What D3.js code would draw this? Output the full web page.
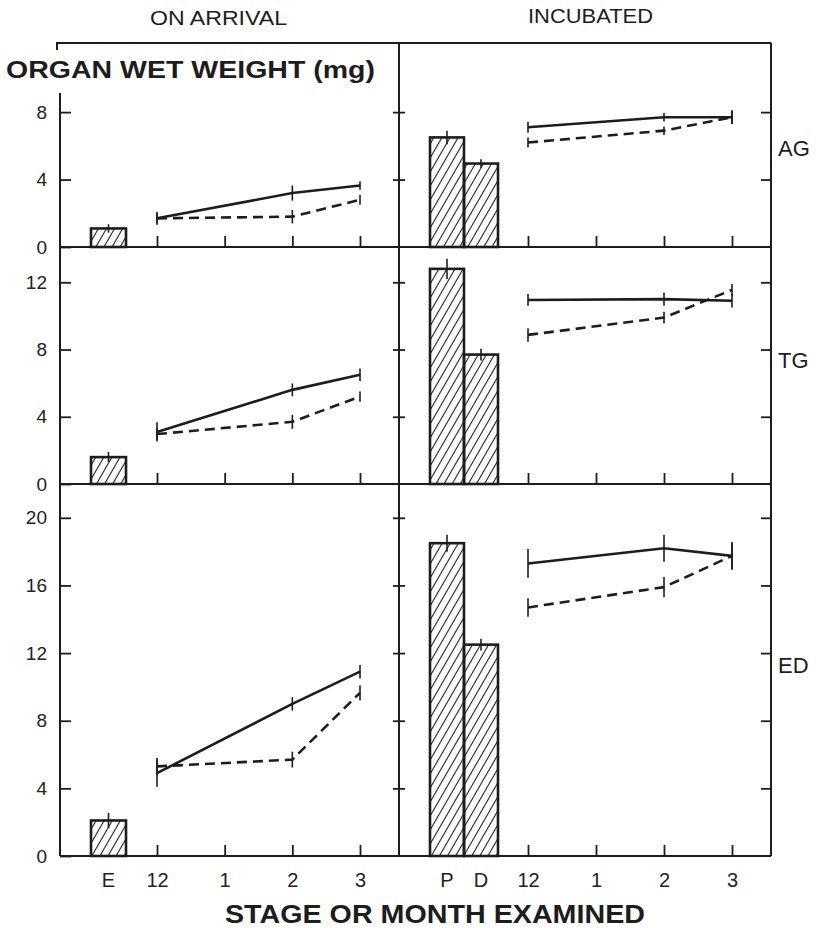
<!DOCTYPE html>
<html lang="en">
<head>
<meta charset="UTF-8">
<title>Organ wet weight</title>
<script src="https://cdnjs.cloudflare.com/ajax/libs/d3/7.8.5/d3.min.js"></script>
<style>
    body { margin: 0; background: #fff; }
    svg { display: block; font-family: "Liberation Sans", Arial, sans-serif; }
    .tick text { fill: #222; }
</style>
</head>
<body>
<svg id="chart" width="819" height="928"></svg>
<script>
// categories
const organs = ["AG", "TG", "ED"];
const months = ["12", "1", "2", "3"];
const lineMonths = ["12", "2", "3"];
const arrivalStages = ["E"];
const incubStages = ["P", "D"];
const yTicks = [[0, 4, 8], [0, 4, 8, 12], [0, 4, 8, 12, 16, 20]];

// bar values per organ (AG, TG, ED)
const barE = [1.1, 1.6, 2.1];
const barEErr = [0.25, 0.3, 0.45];
const barP = [6.5, 12.8, 18.5];
const barPErr = [0.4, 0.6, 0.5];
const barD = [4.95, 7.7, 12.5];
const barDErr = [0.25, 0.35, 0.35];

// on arrival, months 12, 2, 3
const arrSolid = [[1.7, 3.2, 3.65], [3.1, 5.6, 6.5], [4.9, 9.0, 10.9]];
const arrSolidErr = [[0.38, 0.45, 0.25], [0.57, 0.38, 0.37], [0.8, 0.4, 0.4]];
const arrDash = [[1.7, 1.8, 2.8], [2.97, 3.7, 5.2], [5.3, 5.7, 9.65]];
const arrDashErr = [[0.3, 0.4, 0.3], [0.35, 0.42, 0.3], [0.5, 0.47, 0.45]];

// incubated, months 12, 2, 3
const incSolid = [[7.1, 7.7, 7.7], [10.95, 11.0, 10.9], [17.3, 18.2, 17.75]];
const incSolidErr = [[0.33, 0.25, 0.4], [0.35, 0.4, 0.4], [0.85, 0.8, 0.8]];
const incDash = [[6.2, 6.9, 7.7], [8.87, 9.9, 11.55], [14.7, 15.9, 17.75]];
const incDashErr = [[0.3, 0.25, 0.4], [0.4, 0.35, 0.35], [0.55, 0.6, 0.8]];

const ink = "#1d1d1d";
const xLeft = 60, xDiv = 399, xRight = 771;
const panelTop = [43, 247, 484];
const panelBot = [247, 484, 856];
const yMax = [12.1, 14.1, 22.0];

const svg = d3.select("#chart");

svg.append("defs").append("pattern")
    .attr("id", "hatch")
    .attr("patternUnits", "userSpaceOnUse")
    .attr("width", 7).attr("height", 7)
    .attr("patternTransform", "rotate(30)")
  .append("line")
    .attr("x1", 3.5).attr("y1", -1).attr("x2", 3.5).attr("y2", 8)
    .attr("stroke", ink).attr("stroke-width", 1.1);

const xMonthL = d3.scalePoint().domain(months).range([157, 360]);
const xMonthR = d3.scalePoint().domain(months).range([528, 732]);
const xStageL = d3.scaleBand().domain(arrivalStages).range([91, 126]);
const xStageR = d3.scaleBand().domain(incubStages).range([430, 498]);

const frame = (x1, y1, x2, y2, w) => svg.append("line")
    .attr("x1", x1).attr("y1", y1).attr("x2", x2).attr("y2", y2)
    .attr("stroke", ink).attr("stroke-width", w || 2);

function clean(g) {
    g.select(".domain").remove();
    g.selectAll(".tick line").attr("stroke", ink).attr("stroke-width", 1.8);
}

organs.forEach((organ, i) => {
    const y = d3.scaleLinear().domain([0, yMax[i]]).range([panelBot[i], panelTop[i]]);
    const last = i === organs.length - 1;

    // left y axis
    svg.append("g")
        .attr("transform", `translate(${xLeft},0)`)
        .call(d3.axisLeft(y).tickValues(yTicks[i]).tickSizeInner(-11).tickSizeOuter(0).tickPadding(13))
        .call(clean)
        .call(g => g.selectAll(".tick text").attr("font-size", 19));

    // right y axis
    svg.append("g")
        .attr("transform", `translate(${xRight},0)`)
        .call(d3.axisRight(y).tickValues(yTicks[i].filter(v => v > 0)).tickSizeInner(-10).tickSizeOuter(0).tickFormat(""))
        .call(clean);

    // divider, ticks crossing both sides
    [d3.axisLeft, d3.axisRight].forEach(ax => {
        svg.append("g")
            .attr("transform", `translate(${xDiv},0)`)
            .call(ax(y).tickValues(yTicks[i].filter(v => v > 0)).tickSizeInner(6).tickSizeOuter(0).tickFormat(""))
            .call(clean);
    });

    // month ticks along the bottom
    [xMonthL, xMonthR].forEach(xs => {
        svg.append("g")
            .attr("transform", `translate(0,${panelBot[i]})`)
            .call(d3.axisBottom(xs).tickSizeInner(-11).tickSizeOuter(0).tickPadding(17).tickFormat(last ? d => d : ""))
            .call(clean)
            .call(g => g.selectAll(".tick text").attr("font-size", 20));
    });
    if (last) {
        [xStageL, xStageR].forEach(xs => {
            svg.append("g")
                .attr("transform", `translate(0,${panelBot[i]})`)
                .call(d3.axisBottom(xs).tickSize(0).tickPadding(17))
                .call(g => g.select(".domain").remove())
                .call(g => g.selectAll(".tick text").attr("font-size", 20));
        });
    }

    // frame lines
    frame(xLeft, panelBot[i], xRight, panelBot[i], 2);
    frame(xLeft, i === 0 ? 93 : panelTop[i], xLeft, panelBot[i], 2);

    // bars
    const bars = [
        { x: xStageL, s: "E", v: barE[i], e: barEErr[i] },
        { x: xStageR, s: "P", v: barP[i], e: barPErr[i] },
        { x: xStageR, s: "D", v: barD[i], e: barDErr[i] }
    ];
    bars.forEach(b => {
        svg.append("rect")
            .attr("x", b.x(b.s)).attr("width", b.x.bandwidth())
            .attr("y", y(b.v)).attr("height", y(0) - y(b.v))
            .attr("fill", "url(#hatch)")
            .attr("stroke", ink).attr("stroke-width", 2.6);
        const cx = b.x(b.s) + b.x.bandwidth() / 2;
        frame(cx, y(b.v - b.e), cx, y(b.v + b.e), 1.6);
    });

    // lines with error bars
    const series = [
        { x: xMonthL, v: arrSolid[i], e: arrSolidErr[i], dash: null },
        { x: xMonthL, v: arrDash[i], e: arrDashErr[i], dash: "10,6" },
        { x: xMonthR, v: incSolid[i], e: incSolidErr[i], dash: null },
        { x: xMonthR, v: incDash[i], e: incDashErr[i], dash: "10,6" }
    ];
    series.forEach(s => {
        const pts = lineMonths.map((m, k) => ({ m, v: s.v[k], e: s.e[k] }));
        svg.append("path")
            .datum(pts)
            .attr("d", d3.line().x(d => s.x(d.m)).y(d => y(d.v)))
            .attr("fill", "none")
            .attr("stroke", ink).attr("stroke-width", 2.6)
            .attr("stroke-dasharray", s.dash);
        pts.forEach(d => frame(s.x(d.m), y(d.v - d.e), s.x(d.m), y(d.v + d.e), 1.6));
    });

    // organ label
    svg.append("text")
        .attr("x", 778).attr("y", (panelTop[i] + panelBot[i]) / 2 + (i === 0 ? 3 : -5))
        .attr("dy", "0.36em")
        .attr("font-size", 22)
        .attr("fill", ink)
        .text(organ);
});

// outer frame
frame(57, 43, xRight, 43, 2);
frame(57, 42, 57, 50, 2);
frame(xDiv, 43, xDiv, 856, 2);
frame(xRight, 43, xRight, 856, 2);

// titles
svg.append("text").attr("x", 150).attr("y", 25)
    .attr("font-size", 21).attr("fill", ink)
    .attr("textLength", 137).attr("lengthAdjust", "spacingAndGlyphs")
    .text("ON ARRIVAL");
svg.append("text").attr("x", 528).attr("y", 23)
    .attr("font-size", 21).attr("fill", ink)
    .attr("textLength", 125).attr("lengthAdjust", "spacingAndGlyphs")
    .text("INCUBATED");
svg.append("text").attr("x", 6).attr("y", 78)
    .attr("font-size", 24).attr("font-weight", "bold").attr("fill", ink)
    .attr("textLength", 369).attr("lengthAdjust", "spacingAndGlyphs")
    .text("ORGAN WET WEIGHT (mg)");
svg.append("text").attr("x", 225).attr("y", 923)
    .attr("font-size", 25).attr("font-weight", "bold").attr("fill", ink)
    .attr("textLength", 420).attr("lengthAdjust", "spacingAndGlyphs")
    .text("STAGE OR MONTH EXAMINED");
</script>
</body>
</html>
